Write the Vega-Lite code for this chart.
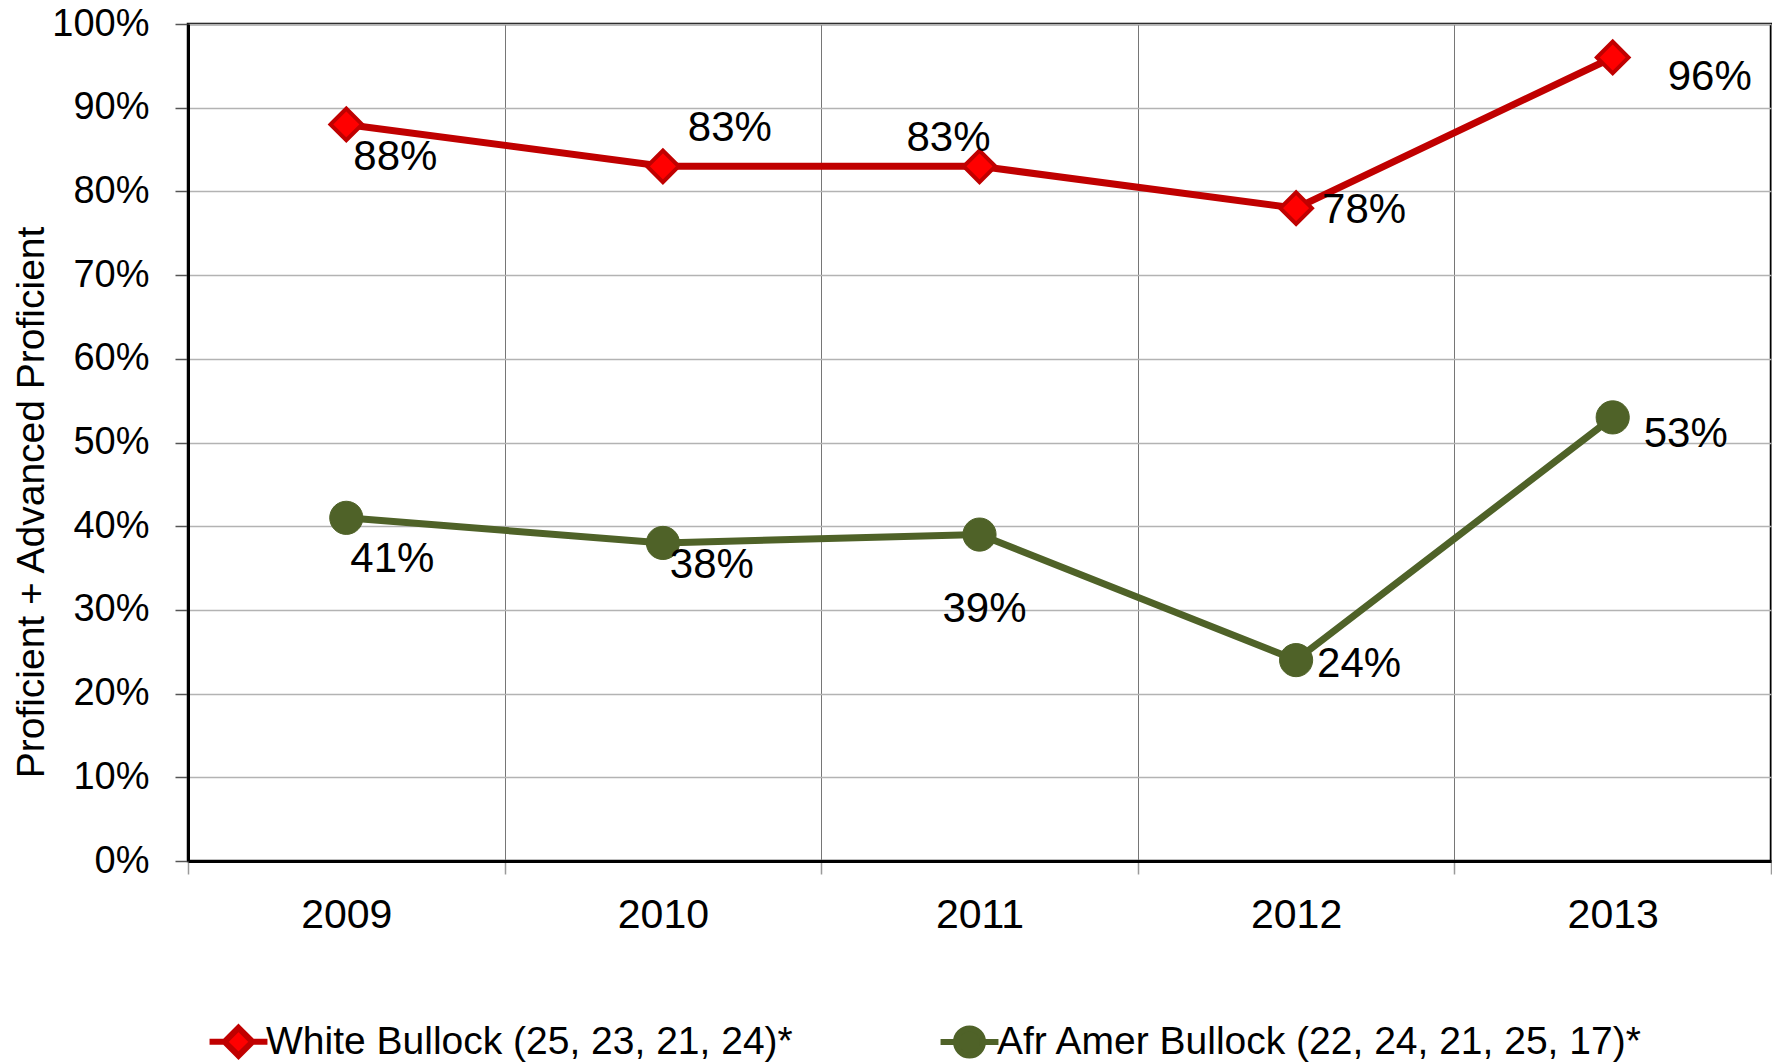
{
  "$schema": "https://vega.github.io/schema/vega-lite/v6.json",
  "width": 1583,
  "height": 837,
  "autosize": {"type": "none"},
  "padding": {"left": 188, "top": 24, "right": 1, "bottom": 202},
  "background": "#ffffff",
  "config": {
    "font": "Liberation Sans",
    "view": {"stroke": "#000000", "strokeWidth": 2.5}
  },
  "data": {
    "values": [
      {"year": "2009", "series": "White Bullock (25, 23, 21, 24)*", "value": 0.88},
      {"year": "2010", "series": "White Bullock (25, 23, 21, 24)*", "value": 0.83},
      {"year": "2011", "series": "White Bullock (25, 23, 21, 24)*", "value": 0.83},
      {"year": "2012", "series": "White Bullock (25, 23, 21, 24)*", "value": 0.78},
      {"year": "2013", "series": "White Bullock (25, 23, 21, 24)*", "value": 0.96},
      {"year": "2009", "series": "Afr Amer Bullock (22, 24, 21, 25, 17)*", "value": 0.41},
      {"year": "2010", "series": "Afr Amer Bullock (22, 24, 21, 25, 17)*", "value": 0.38},
      {"year": "2011", "series": "Afr Amer Bullock (22, 24, 21, 25, 17)*", "value": 0.39},
      {"year": "2012", "series": "Afr Amer Bullock (22, 24, 21, 25, 17)*", "value": 0.24},
      {"year": "2013", "series": "Afr Amer Bullock (22, 24, 21, 25, 17)*", "value": 0.53}
    ]
  },
  "encoding": {
    "x": {
      "field": "year",
      "type": "nominal",
      "sort": null,
      "scale": {"type": "band", "paddingInner": 0, "paddingOuter": 0},
      "axis": {
        "title": null,
        "labelAngle": 0,
        "labelFontSize": 41,
        "labelColor": "#000000",
        "labelPadding": 21,
        "tickBand": "extent",
        "tickSize": 13,
        "tickColor": "#9a9a9a",
        "tickWidth": 1.5,
        "grid": true,
        "gridColor": "#767676",
        "gridWidth": 1,
        "domainColor": "#000000",
        "domainWidth": 3
      }
    },
    "y": {
      "field": "value",
      "type": "quantitative",
      "scale": {"domain": [0, 1], "nice": false, "zero": true},
      "axis": {
        "title": "Proficient + Advanced Proficient",
        "titleFontSize": 39,
        "titleFontWeight": "normal",
        "titleColor": "#000000",
        "titleAngle": 270,
        "titleAlign": "center",
        "titleBaseline": "middle",
        "titleX": -157,
        "titleY": 478,
        "values": [0, 0.1, 0.2, 0.3, 0.4, 0.5, 0.6, 0.7, 0.8, 0.9, 1],
        "format": ".0%",
        "labelFontSize": 38,
        "labelColor": "#000000",
        "labelPadding": 26,
        "tickSize": 13,
        "tickColor": "#555555",
        "tickWidth": 1.5,
        "grid": true,
        "gridColor": "#b3b3b3",
        "gridWidth": 1.5,
        "domainColor": "#000000",
        "domainWidth": 3
      }
    }
  },
  "layer": [
    {
      "mark": {"type": "point", "filled": true, "strokeWidth": 6, "opacity": 1, "size": 60},
      "encoding": {
        "shape": {
          "field": "series",
          "type": "nominal",
          "scale": {
            "domain": ["White Bullock (25, 23, 21, 24)*", "Afr Amer Bullock (22, 24, 21, 25, 17)*"],
            "range": [
              "M-1.93,0H-0.93M0.93,0H1.93M0,-0.93L0.93,0L0,0.93L-0.93,0Z",
              "M-1.93,0H-0.9M0.9,0H1.93M-0.9,0A0.9,0.9 0 1,0 0.9,0A0.9,0.9 0 1,0 -0.9,0Z"
            ]
          },
          "legend": {
            "title": null,
            "orient": "none",
            "legendX": 31,
            "legendY": 998,
            "direction": "horizontal",
            "columns": 2,
            "columnPadding": 135,
            "labelFont": "Liberation Sans",
            "labelFontSize": 39,
            "labelColor": "#000000",
            "labelOffset": 8,
            "labelLimit": 1200,
            "symbolSize": 900,
            "symbolStrokeWidth": 6,
            "symbolOpacity": 1
          }
        },
        "fill": {
          "field": "series",
          "type": "nominal",
          "scale": {
            "domain": ["White Bullock (25, 23, 21, 24)*", "Afr Amer Bullock (22, 24, 21, 25, 17)*"],
            "range": ["#FF0000", "#4F6228"]
          }
        },
        "stroke": {
          "field": "series",
          "type": "nominal",
          "scale": {
            "domain": ["White Bullock (25, 23, 21, 24)*", "Afr Amer Bullock (22, 24, 21, 25, 17)*"],
            "range": ["#C00000", "#4F6228"]
          }
        }
      }
    },
    {
      "mark": {"type": "line", "strokeWidth": 7},
      "encoding": {
        "color": {
          "field": "series",
          "type": "nominal",
          "scale": {
            "domain": ["White Bullock (25, 23, 21, 24)*", "Afr Amer Bullock (22, 24, 21, 25, 17)*"],
            "range": ["#C00000", "#4F6228"]
          },
          "legend": null
        }
      }
    },
    {
      "transform": [{"filter": "datum.value > 0.6"}],
      "mark": {"type": "point", "shape": "diamond", "filled": true, "fill": "#FF0000", "stroke": "#C00000", "strokeWidth": 4, "size": 1000, "opacity": 1}
    },
    {
      "transform": [{"filter": "datum.value < 0.6"}],
      "mark": {"type": "point", "shape": "circle", "filled": true, "fill": "#4F6228", "stroke": "#4F6228", "strokeWidth": 1, "size": 1100, "opacity": 1}
    },
    {
      "transform": [{"filter": "datum.year == '2009' && datum.value > 0.6"}],
      "mark": {"type": "text", "fontSize": 42, "color": "#000000", "align": "center", "baseline": "middle", "dx": 49, "dy": 33},
      "encoding": {"text": {"field": "value", "format": ".0%"}}
    },
    {
      "transform": [{"filter": "datum.year == '2010' && datum.value > 0.6"}],
      "mark": {"type": "text", "fontSize": 42, "color": "#000000", "align": "center", "baseline": "middle", "dx": 67, "dy": -38},
      "encoding": {"text": {"field": "value", "format": ".0%"}}
    },
    {
      "transform": [{"filter": "datum.year == '2011' && datum.value > 0.6"}],
      "mark": {"type": "text", "fontSize": 42, "color": "#000000", "align": "center", "baseline": "middle", "dx": -31, "dy": -28},
      "encoding": {"text": {"field": "value", "format": ".0%"}}
    },
    {
      "transform": [{"filter": "datum.year == '2012' && datum.value > 0.6"}],
      "mark": {"type": "text", "fontSize": 42, "color": "#000000", "align": "center", "baseline": "middle", "dx": 68, "dy": 2},
      "encoding": {"text": {"field": "value", "format": ".0%"}}
    },
    {
      "transform": [{"filter": "datum.year == '2013' && datum.value > 0.6"}],
      "mark": {"type": "text", "fontSize": 42, "color": "#000000", "align": "center", "baseline": "middle", "dx": 97, "dy": 20},
      "encoding": {"text": {"field": "value", "format": ".0%"}}
    },
    {
      "transform": [{"filter": "datum.year == '2009' && datum.value < 0.6"}],
      "mark": {"type": "text", "fontSize": 42, "color": "#000000", "align": "center", "baseline": "middle", "dx": 46, "dy": 41},
      "encoding": {"text": {"field": "value", "format": ".0%"}}
    },
    {
      "transform": [{"filter": "datum.year == '2010' && datum.value < 0.6"}],
      "mark": {"type": "text", "fontSize": 42, "color": "#000000", "align": "center", "baseline": "middle", "dx": 49, "dy": 22},
      "encoding": {"text": {"field": "value", "format": ".0%"}}
    },
    {
      "transform": [{"filter": "datum.year == '2011' && datum.value < 0.6"}],
      "mark": {"type": "text", "fontSize": 42, "color": "#000000", "align": "center", "baseline": "middle", "dx": 5, "dy": 74},
      "encoding": {"text": {"field": "value", "format": ".0%"}}
    },
    {
      "transform": [{"filter": "datum.year == '2012' && datum.value < 0.6"}],
      "mark": {"type": "text", "fontSize": 42, "color": "#000000", "align": "center", "baseline": "middle", "dx": 63, "dy": 4},
      "encoding": {"text": {"field": "value", "format": ".0%"}}
    },
    {
      "transform": [{"filter": "datum.year == '2013' && datum.value < 0.6"}],
      "mark": {"type": "text", "fontSize": 42, "color": "#000000", "align": "center", "baseline": "middle", "dx": 73, "dy": 17},
      "encoding": {"text": {"field": "value", "format": ".0%"}}
    }
  ]
}
